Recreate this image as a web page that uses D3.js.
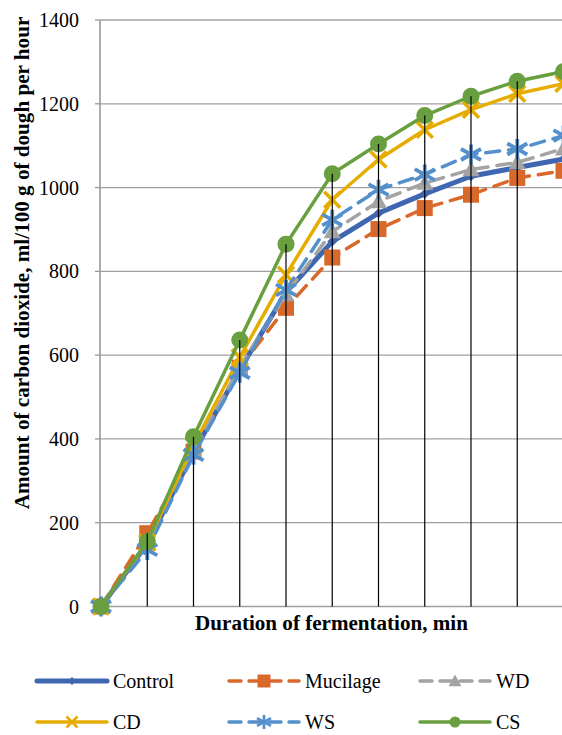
<!DOCTYPE html>
<html>
<head>
<meta charset="utf-8">
<script src="https://cdn.jsdelivr.net/npm/d3@7/dist/d3.min.js"></script>
<style>
body{margin:0;font-family:"Times New Roman";}
svg{display:block;font-family:"Times New Roman";}
</style>
</head>
<body>
<script>
// ---------- data ----------
const durations = ["0","1","2","3","4","5","6","7","8","9","10"];
const yTicks = [0,200,400,600,800,1000,1200,1400];
const seriesNames = ["Control","Mucilage","WD","CD","WS","CS"];
const control  = [0,150,368,565,750,871,939,985,1027,1048,1068];
const mucilage = [0,175,370,570,713,833,901,951,983,1023,1040];
const wd       = [0,150,372,572,745,895,967,1011,1043,1060,1093];
const cd       = [0,152,385,595,792,971,1067,1138,1186,1224,1248];
const ws       = [0,135,362,558,756,923,995,1031,1079,1092,1124];
const cs       = [0,155,405,636,865,1033,1104,1172,1218,1254,1277];
const yTitle = "Amount of carbon dioxide, ml/100 g of dough per hour";
const xTitle = "Duration of fermentation, min";

const styles = {
  Control:  {color:"#3f67b1", width:5,   dash:null,    marker:"diamond"},
  Mucilage: {color:"#d9692a", width:3.5, dash:"14,9",  marker:"square"},
  WD:       {color:"#a3a3a3", width:3.5, dash:"14,9",  marker:"triangle"},
  CD:       {color:"#e6ad00", width:3.5, dash:null,    marker:"x"},
  WS:       {color:"#5390cc", width:3.5, dash:"14,9",  marker:"star"},
  CS:       {color:"#6a9f3f", width:3.5, dash:null,    marker:"circle"}
};
const values = {Control:control, Mucilage:mucilage, WD:wd, CD:cd, WS:ws, CS:cs};

const W = 562, H = 735;
const svg = d3.select("body").append("svg").attr("width",W).attr("height",H);

const x = d3.scalePoint().domain(durations).range([101, 563.5]);
const y = d3.scaleLinear().domain([0,1400]).range([606.5, 20]);

// gridlines
svg.append("g").selectAll("line").data(yTicks).join("line")
  .attr("x1",100).attr("x2",W+10)
  .attr("y1",d=>y(d)).attr("y2",d=>y(d))
  .attr("stroke","#a0a0a0").attr("stroke-width",1.3);

// y axis line and ticks
svg.append("line").attr("x1",100).attr("x2",100).attr("y1",y(1400)).attr("y2",y(0))
  .attr("stroke","#999").attr("stroke-width",1.6);
svg.append("g").selectAll("line").data(yTicks).join("line")
  .attr("x1",95).attr("x2",100).attr("y1",d=>y(d)).attr("y2",d=>y(d))
  .attr("stroke","#999").attr("stroke-width",1.3);
svg.append("g").selectAll("text").data(yTicks).join("text")
  .attr("x",79).attr("y",d=>y(d)+7).attr("text-anchor","end")
  .attr("font-size",20).attr("fill","#000")
  .text(d=>d3.format("d")(d));

// titles (fit to the reference lengths)
function fit(sel, target, base) {
  const len = sel.node().getComputedTextLength();
  if (len > 0) sel.attr("font-size", base * target / len);
}
const yt = svg.append("text").attr("transform","translate(29,263) rotate(-90)")
  .attr("text-anchor","middle").attr("font-weight","bold")
  .attr("font-size",19).attr("fill","#000").text(yTitle);
fit(yt, 493, 19);
const xt = svg.append("text").attr("x",331.5).attr("y",630)
  .attr("text-anchor","middle").attr("font-weight","bold")
  .attr("font-size",20).attr("fill","#000").text(xTitle);
fit(xt, 273, 20);

// marker drawing
function drawMarker(g, type, color, s) {
  if (type==="diamond") {
    g.append("path").attr("d",`M0,${-s}L${s},0L0,${s}L${-s},0Z`).attr("fill",color);
  } else if (type==="square") {
    g.append("rect").attr("x",-s).attr("y",-s).attr("width",2*s).attr("height",2*s).attr("fill",color);
  } else if (type==="triangle") {
    g.append("path").attr("d",`M0,${-s}L${s},${s*0.8}L${-s},${s*0.8}Z`).attr("fill",color);
  } else if (type==="x") {
    g.append("path").attr("d",`M${-s},${-s}L${s},${s}M${-s},${s}L${s},${-s}`)
      .attr("stroke",color).attr("stroke-width",Math.max(2.5,s*0.45)).attr("fill","none");
  } else if (type==="star") {
    const a = s, b = s*0.55;
    g.append("path").attr("d",`M0,${-s}L0,${s}M${-a},${-b}L${a},${b}M${-a},${b}L${a},${-b}`)
      .attr("stroke",color).attr("stroke-width",Math.max(2.5,s*0.38)).attr("fill","none");
  } else if (type==="circle") {
    g.append("circle").attr("r",s).attr("fill",color);
  }
}
const markerSize = {diamond:5, square:8, triangle:8.5, x:8, star:10, circle:8.5};

// series
const line = d3.line().x((d,i)=>x(durations[i])).y(d=>y(d));
seriesNames.forEach(name=>{
  const st = styles[name], vals = values[name];
  const g = svg.append("g");
  g.append("path").datum(vals).attr("d",line).attr("fill","none")
    .attr("stroke",st.color).attr("stroke-width",st.width)
    .attr("stroke-dasharray",st.dash).attr("stroke-linejoin","round").attr("stroke-linecap","round");
  vals.forEach((v,i)=>{
    const m = g.append("g").attr("transform",`translate(${x(durations[i])},${y(v)})`);
    drawMarker(m, st.marker, st.color, markerSize[st.marker]);
  });
});

// drop lines
const maxVals = durations.map((d,i)=>d3.max(seriesNames, n=>values[n][i]));
svg.append("g").selectAll("line").data(maxVals).join("line")
  .attr("x1",(d,i)=>x(durations[i])).attr("x2",(d,i)=>x(durations[i]))
  .attr("y1",d=>y(d)).attr("y2",y(0))
  .attr("stroke","#000").attr("stroke-width",1.2);

// legend
const legPos = [[37,681],[229,681],[420,681],[37,722],[229,722],[420,722]];
const legMarkerSize = {diamond:4, square:6.5, triangle:6.5, x:5.5, star:7, circle:5.5};
seriesNames.forEach((name,k)=>{
  const st = styles[name];
  const [lx,ly] = legPos[k];
  const g = svg.append("g");
  g.append("line").attr("x1",lx).attr("x2",lx+70).attr("y1",ly).attr("y2",ly)
    .attr("stroke",st.color).attr("stroke-width",st.width)
    .attr("stroke-dasharray",st.dash ? "12,8" : null).attr("stroke-linecap","round");
  const m = g.append("g").attr("transform",`translate(${lx+35},${ly})`);
  drawMarker(m, st.marker, st.color, legMarkerSize[st.marker]);
  g.append("text").attr("x",lx+76).attr("y",ly+7)
    .attr("font-size",20).attr("fill","#000").text(name);
});
</script>
</body>
</html>
